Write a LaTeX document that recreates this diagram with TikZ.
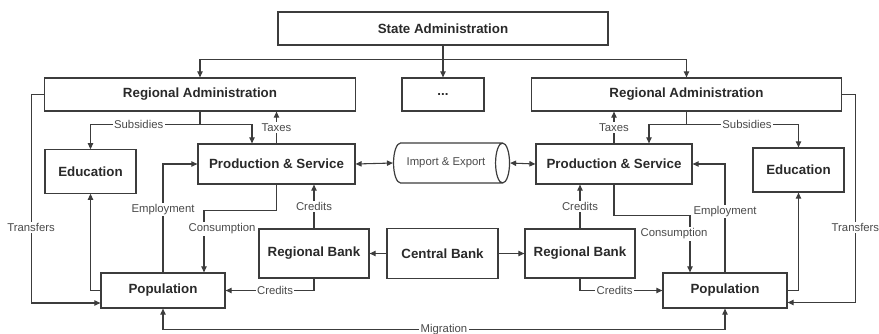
\documentclass[tikz,border=0pt]{standalone}
\usepackage{fontspec}
\setmainfont{Liberation Sans}
\usetikzlibrary{arrows.meta,shapes.geometric,calc}
\definecolor{inkline}{HTML}{3C3C3C}
\definecolor{inktext}{HTML}{2A2A2A}
\definecolor{lbltext}{HTML}{4A4A4A}
\tikzset{
  box/.style={draw=inkline,line width=0.9pt,fill=white,text=inktext,font=\fontsize{10}{12}\selectfont\bfseries,inner sep=2pt},
  lbl/.style={fill=white,text=lbltext,font=\fontsize{8.5}{10}\selectfont,inner sep=1pt},
  arr/.style={draw=inkline,line width=0.8pt,-{Triangle[length=4.5pt,width=4pt]}},
  darr/.style={draw=inkline,line width=0.8pt,{Triangle[length=4.5pt,width=4pt]}-{Triangle[length=4.5pt,width=4pt]}},
  ln/.style={draw=inkline,line width=0.8pt}
}
\begin{document}
\begin{tikzpicture}[x=0.75pt,y=0.75pt,yscale=-1]
\useasboundingbox (0,0) rectangle (879,333);

%Shape: Rectangle
\node[box,minimum width=247.5pt,minimum height=24.75pt] (state) at (443,28.5) {State Administration};
%Shape: Rectangle
\node[box,minimum width=233pt,minimum height=24.75pt] (ral) at (200,94.5) {Regional Administration};
\node[box,minimum width=61.5pt,minimum height=24.75pt] (dots) at (443,94.5) {...};
\node[box,minimum width=233pt,minimum height=24.75pt] (rar) at (686.5,94.5) {Regional Administration};
%Shape: Rectangle
\node[box,minimum width=68.25pt,minimum height=32.5pt] (edul) at (90.5,171.5) {Education};
\node[box,minimum width=117.75pt,minimum height=30pt] (prodl) at (276.5,164) {Production \& Service};
\node[box,minimum width=117pt,minimum height=30pt] (prodr) at (614,164) {Production \& Service};
\node[box,minimum width=68.25pt,minimum height=33pt] (edur) at (798.5,170) {Education};
%Shape: Can
\node[draw=inkline,line width=0.9pt,cylinder,shape border rotate=0,aspect=0.9,minimum height=87pt,minimum width=30pt,text=lbltext,font=\fontsize{8.5}{10}\selectfont,inner sep=2pt] (impex) at (446,163) {Import \& Export};
%Shape: Rectangle
\node[box,minimum width=82.5pt,minimum height=36.75pt] (rbl) at (314,253.5) {Regional Bank};
\node[box,minimum width=83.25pt,minimum height=37.5pt] (cb) at (442.5,253.5) {Central Bank};
\node[box,minimum width=82.5pt,minimum height=36.75pt] (rbr) at (580,253.5) {Regional Bank};
\node[box,minimum width=93pt,minimum height=26.25pt] (popl) at (163,290.5) {Population};
\node[box,minimum width=93pt,minimum height=26.25pt] (popr) at (725,290.5) {Population};

%Straight Lines
\draw[arr] (state.south) -- ++(0,14) -| (ral.north);
\draw[arr] (state.south) -- ++(0,14) -| (rar.north);
\draw[arr] (state.south) -- (dots.north);

%Straight Lines
\draw[ln] (ral.south) -- ++(0,13) coordinate (subl);
\draw[arr] (subl) -| (edul.north) node[pos=0.28,lbl] {Subsidies};
\draw[arr] (subl) -| ($(prodl.north)+(-24.5,0)$);
\draw[arr] (prodl.north) -- (prodl.north |- ral.south) node[midway,lbl] {Taxes};
\draw[arr] (ral.west) -- ++(-13,0) |- ($(popl.west)+(0,12.5)$) node[pos=0.32,lbl] {Transfers};

%Straight Lines
\draw[ln] (rar.south) -- ++(0,13) coordinate (subr);
\draw[arr] (subr) -| (edur.north) node[pos=0.27,lbl] {Subsidies};
\draw[arr] (subr) -| ($(prodr.north)+(35,0)$);
\draw[arr] (prodr.north) -- (prodr.north |- rar.south) node[midway,lbl] {Taxes};
\draw[arr] (rar.east) -- ++(13,0) |- ($(popr.east)+(0,12)$) node[pos=0.32,lbl] {Transfers};

%Straight Lines
\draw[darr] (prodl.east) -- (impex.west);
\draw[darr] (impex.east) -- (prodr.west);

%Straight Lines
\draw[arr] (popl.north) |- (prodl.west) node[pos=0.29,lbl] {Employment};
\draw[arr] (prodl.south) -- ++(0,26) -| ($(popl.north)+(41,0)$);
\node[lbl] (consl) at (222,229) {Consumption};
\draw[arr] (rbl.north) -- (rbl.north |- prodl.south) node[midway,lbl] {Credits};
\draw[arr] (rbl.south) |- (popl.east) node[pos=0.72,lbl] {Credits};
\draw[arr] (popl.west) -| (edul.south);

%Straight Lines
\draw[arr] (popr.north) |- (prodr.east) node[pos=0.28,lbl] {Employment};
\draw[arr] (prodr.south) -- ++(0,31) -| ($(popr.north)+(-35,0)$);
\node[lbl] (consr) at (674,234) {Consumption};
\draw[arr] (rbr.north) -- (rbr.north |- prodr.south) node[midway,lbl] {Credits};
\draw[arr] (rbr.south) |- (popr.west) node[pos=0.71,lbl] {Credits};
\draw[arr] (popr.east) -| (edur.south);

%Straight Lines
\draw[arr] (cb.west) -- (cb.west -| rbl.east);
\draw[arr] (cb.east) -- (cb.east -| rbr.west);
\draw[darr] (popl.south) -- ++(0,21) -| (popr.south) node[pos=0.25,lbl] {Migration};

\end{tikzpicture}
\end{document}
